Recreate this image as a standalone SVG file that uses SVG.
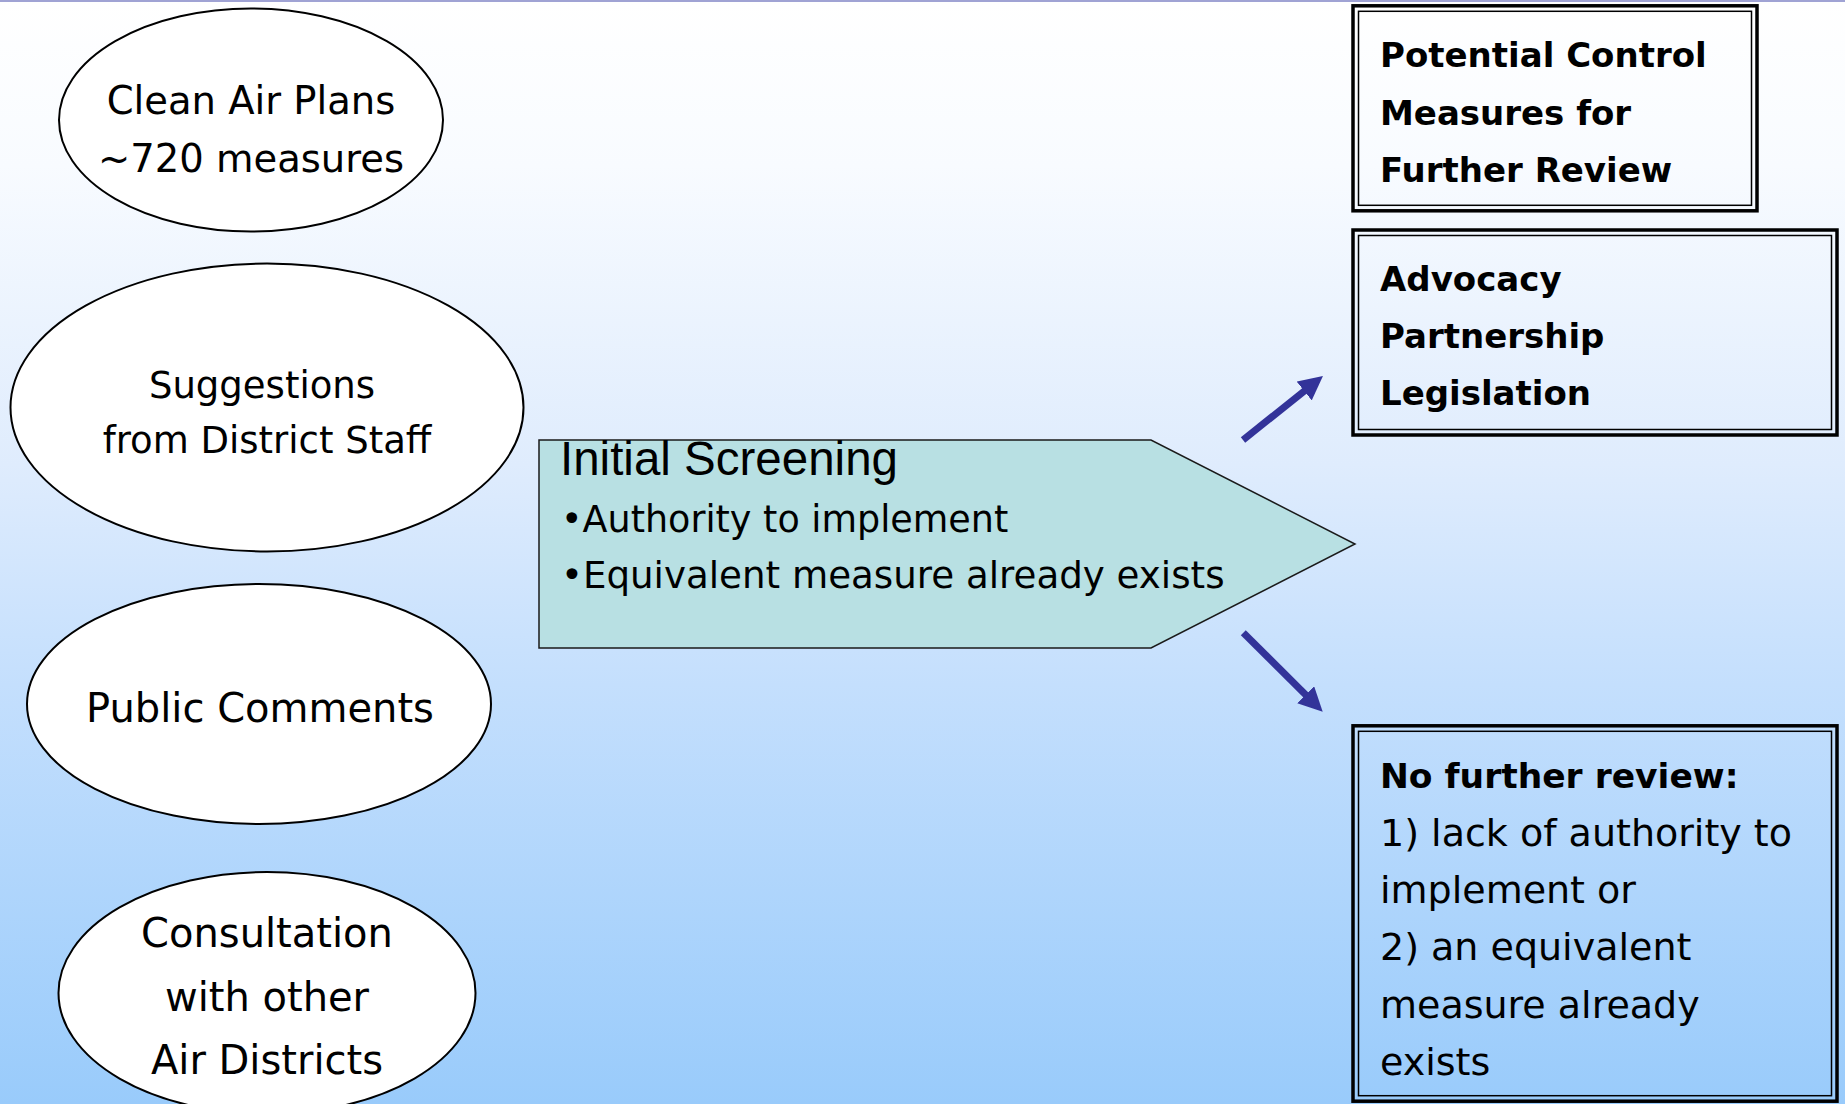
<svg xmlns="http://www.w3.org/2000/svg" width="1845" height="1104" viewBox="0 0 1845 1104">
  <defs>
    <linearGradient id="bg" x1="0" y1="0" x2="0" y2="1">
      <stop offset="0" stop-color="#FFFFFF"/>
      <stop offset="0.15" stop-color="#F8FBFF"/>
      <stop offset="0.42" stop-color="#DFECFD"/>
      <stop offset="0.62" stop-color="#C4DFFD"/>
      <stop offset="1" stop-color="#99CBFB"/>
    </linearGradient>
    <marker id="ah" viewBox="0 0 24 24" markerUnits="userSpaceOnUse" markerWidth="24" markerHeight="24" refX="1" refY="12" orient="auto">
      <path d="M0,0 L24,12 L0,24 z" fill="#333399"/>
    </marker>
    <style>
      .ell { fill:#FFFFFF; stroke:#000000; stroke-width:2; }
      .t { font-family:"DejaVu Sans", "Liberation Sans", sans-serif; fill:#000000; }
      .c { text-anchor:middle; }
      .b { font-weight:bold; font-size:34px; }
      .o { fill:none; stroke:#000000; stroke-width:3.5; }
      .i { fill:none; stroke:#000000; stroke-width:1.5; }
      .conn { stroke:#333399; stroke-width:7; fill:none; marker-end:url(#ah); }
    </style>
  </defs>

  <rect x="0" y="0" width="1845" height="1104" fill="url(#bg)"/>
  <rect x="0" y="0" width="1845" height="2" fill="#A0A3D4"/>

  <g id="clean-air-plans">
    <ellipse class="ell" cx="251" cy="120" rx="192" ry="111.5"/>
    <text class="t c" x="251" y="114" font-size="38.5">Clean Air Plans</text>
    <text class="t c" x="251" y="172" font-size="38.5">~720 measures</text>
  </g>

  <g id="district-staff">
    <ellipse class="ell" cx="267" cy="407.5" rx="256.5" ry="144"/>
    <text class="t c" x="262" y="398" font-size="37">Suggestions</text>
    <text class="t c" x="267" y="453" font-size="37">from District Staff</text>
  </g>

  <g id="public-comments">
    <ellipse class="ell" cx="259" cy="704" rx="232" ry="120"/>
    <text class="t c" x="260" y="722" font-size="40">Public Comments</text>
  </g>

  <g id="consultation">
    <ellipse class="ell" cx="267" cy="993" rx="208.5" ry="121"/>
    <text class="t c" x="267" y="947" font-size="40">Consultation</text>
    <text class="t c" x="267" y="1011" font-size="40">with other</text>
    <text class="t c" x="267" y="1074" font-size="40">Air Districts</text>
  </g>

  <g id="initial-screening">
    <path d="M539,440 L1151,440 L1355,544 L1151,648 L539,648 Z" fill="#B8E0E3" stroke="#1A1A1A" stroke-width="1.5"/>
    <text x="560" y="475" font-family="'Liberation Sans', Arial, sans-serif" font-size="47.5" fill="#000000">Initial Screening</text>
    <text class="t" x="561" y="532" font-size="36.5">•Authority to implement</text>
    <text class="t" x="561" y="588" font-size="37.2">•Equivalent measure already exists</text>
  </g>

  <g id="potential-control-measures">
    <rect class="o" x="1353" y="5.8" width="404" height="205"/>
    <rect class="i" x="1358.5" y="11.3" width="393" height="194"/>
    <text class="t b" x="1380" y="67">Potential Control</text>
    <text class="t b" x="1380" y="125">Measures for</text>
    <text class="t b" x="1380" y="182">Further Review</text>
  </g>

  <g id="advocacy">
    <rect class="o" x="1353" y="230" width="484" height="205"/>
    <rect class="i" x="1358.5" y="235.5" width="473" height="194"/>
    <text class="t b" x="1380" y="291">Advocacy</text>
    <text class="t b" x="1380" y="348">Partnership</text>
    <text class="t b" x="1380" y="405">Legislation</text>
  </g>

  <g id="no-further-review">
    <rect class="o" x="1353" y="725.8" width="484" height="375.4"/>
    <rect class="i" x="1358.5" y="731.3" width="473" height="364.4"/>
    <text class="t" x="1380" y="788" font-size="34.5" font-weight="bold">No further review:</text>
    <text class="t" x="1380" y="845.5" font-size="38">1) lack of authority to</text>
    <text class="t" x="1380" y="903" font-size="38">implement or</text>
    <text class="t" x="1380" y="960" font-size="38">2) an equivalent</text>
    <text class="t" x="1380" y="1017.5" font-size="38">measure already</text>
    <text class="t" x="1380" y="1075" font-size="38">exists</text>
  </g>

  <g id="connectors">
    <line class="conn" x1="1243" y1="440" x2="1305" y2="390.4"/>
    <line class="conn" x1="1243.3" y1="632.7" x2="1306.4" y2="695.5"/>
  </g>
</svg>
